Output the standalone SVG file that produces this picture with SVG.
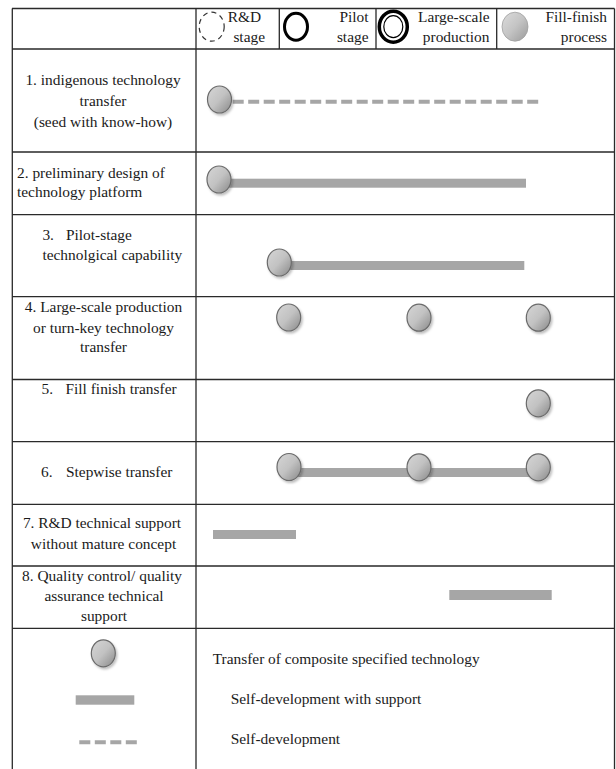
<svg xmlns="http://www.w3.org/2000/svg" width="616" height="769" viewBox="0 0 616 769">
<style>
.t{font-family:"Liberation Serif","Times New Roman",serif;font-size:15.4px;fill:#1a1a1a}
.m{text-anchor:middle}
.e{text-anchor:end}
.ln{stroke:#2a2a2a;stroke-width:1.3;fill:none}
.ball{fill:url(#bg);stroke:#6b6b6b;stroke-width:1.2;filter:url(#sh)}
.bar{fill:#a6a6a6}
.dash{stroke:#a6a6a6;stroke-width:4;stroke-dasharray:11 4.5;fill:none}
</style>
<defs>
<linearGradient id="bg" x1="0" y1="0" x2="1" y2="1">
<stop offset="0" stop-color="#d6d6d6"/>
<stop offset="0.5" stop-color="#c2c2c2"/>
<stop offset="1" stop-color="#888888"/>
</linearGradient>
<linearGradient id="bg2" x1="0" y1="0" x2="1" y2="1">
<stop offset="0" stop-color="#dcdcdc"/>
<stop offset="0.5" stop-color="#c4c4c4"/>
<stop offset="1" stop-color="#9a9a9a"/>
</linearGradient>
<filter id="sh" x="-30%" y="-30%" width="170%" height="170%">
<feDropShadow dx="1.5" dy="2" stdDeviation="1" flood-color="#000" flood-opacity="0.25"/>
</filter>
</defs>
<rect width="616" height="769" fill="#fff"/>
<g id="grid">
<path class="ln" d="M12 8.5H614.5M12 49H614.5M12 152H614.5M12 214.7H614.5M12 296.7H614.5M12 379.5H614.5M12 441.7H614.5M12 504.3H614.5M12 566H614.5M12 628.3H614.5"/>
<path class="ln" d="M12.3 8.5V769M196 8.5V769M614.5 8.5V769M279.3 8.5V49M376 8.5V49M496.7 8.5V49"/>
</g>
<g id="header">
<g id="h-rd">
<ellipse cx="211.7" cy="26.7" rx="12.5" ry="14.5" fill="none" stroke="#333" stroke-width="1.2" stroke-dasharray="5 4"/>
<text class="t e" x="261" y="22">R&amp;D</text>
<text class="t e" x="265" y="42">stage</text>
</g>
<g id="h-pilot">
<ellipse cx="296" cy="26.7" rx="11.5" ry="13.5" fill="none" stroke="#000" stroke-width="3"/>
<text class="t e" x="368.5" y="22">Pilot</text>
<text class="t e" x="368.5" y="42">stage</text>
</g>
<g id="h-large">
<ellipse cx="393.3" cy="26.7" rx="14" ry="15.5" fill="none" stroke="#000" stroke-width="3.5"/>
<ellipse cx="393.3" cy="26.7" rx="9.5" ry="11" fill="none" stroke="#000" stroke-width="1.2"/>
<text class="t e" x="489.5" y="22">Large-scale</text>
<text class="t e" x="489.5" y="42">production</text>
</g>
<g id="h-fill">
<ellipse cx="515" cy="26.7" rx="13" ry="14.5" fill="url(#bg2)" stroke="#a0a0a0" stroke-width="0.8"/>
<text class="t e" x="607" y="22">Fill-finish</text>
<text class="t e" x="607" y="42">process</text>
</g>
</g>
<g id="connectors">
<line class="dash" x1="232.7" y1="101.7" x2="538.7" y2="101.7"/>
<rect class="bar" x="225" y="178.7" width="301" height="9"/>
<rect class="bar" x="285" y="261" width="239.3" height="9"/>
<rect class="bar" x="295" y="468" width="243" height="9"/>
<rect class="bar" x="213" y="530" width="83" height="9"/>
<rect class="bar" x="449.3" y="590" width="102.4" height="10"/>
</g>
<g id="row1">
<text class="t m" x="103" y="85">1. indigenous technology</text>
<text class="t m" x="103" y="106">transfer</text>
<text class="t m" x="103" y="127">(seed with know-how)</text>
<ellipse class="ball" cx="219.5" cy="99.5" rx="12" ry="13.5"/>
</g>
<g id="row2">
<text class="t" x="17" y="178">2. preliminary design of</text>
<text class="t" x="17" y="197">technology platform</text>
<ellipse class="ball" cx="219" cy="179.5" rx="12" ry="13.5"/>
</g>
<g id="row3">
<text class="t" y="240"><tspan x="42.4">3.</tspan><tspan x="66">Pilot-stage</tspan></text>
<text class="t" x="42.4" y="260">technolgical capability</text>
<ellipse class="ball" cx="279.3" cy="262.5" rx="12" ry="13.5"/>
</g>
<g id="row4">
<text class="t m" x="103.5" y="312">4. Large-scale production</text>
<text class="t m" x="103.5" y="333">or turn-key technology</text>
<text class="t m" x="103.5" y="352">transfer</text>
<ellipse class="ball" cx="288.7" cy="317.5" rx="12" ry="13.5"/>
<ellipse class="ball" cx="419" cy="317.7" rx="12" ry="13.5"/>
<ellipse class="ball" cx="538.3" cy="317.7" rx="12" ry="13.5"/>
</g>
<g id="row5">
<text class="t" y="394"><tspan x="41.5">5.</tspan><tspan x="65.5">Fill finish transfer</tspan></text>
<ellipse class="ball" cx="538.3" cy="403.3" rx="12" ry="13.5"/>
</g>
<g id="row6">
<text class="t" y="477"><tspan x="41">6.</tspan><tspan x="66">Stepwise transfer</tspan></text>
<ellipse class="ball" cx="289" cy="467" rx="12" ry="13.5"/>
<ellipse class="ball" cx="419" cy="467.3" rx="12" ry="13.5"/>
<ellipse class="ball" cx="538.3" cy="467.3" rx="12" ry="13.5"/>
</g>
<g id="row7">
<text class="t m" x="102" y="528">7. R&amp;D technical support</text>
<text class="t m" x="103.5" y="549">without mature concept</text>
</g>
<g id="row8">
<text class="t m" x="102" y="581">8. Quality control/ quality</text>
<text class="t m" x="104" y="601">assurance technical</text>
<text class="t m" x="104" y="621">support</text>
</g>
<g id="legend">
<ellipse class="ball" cx="103.3" cy="653.3" rx="12" ry="13.5"/>
<rect class="bar" x="75.7" y="695.3" width="58.6" height="9.4"/>
<line class="dash" x1="79.3" y1="742.3" x2="137" y2="742.3"/>
<text class="t" x="212.7" y="664">Transfer of composite specified technology</text>
<text class="t" x="230.7" y="704">Self-development with support</text>
<text class="t" x="230.7" y="744">Self-development</text>
</g>
</svg>
